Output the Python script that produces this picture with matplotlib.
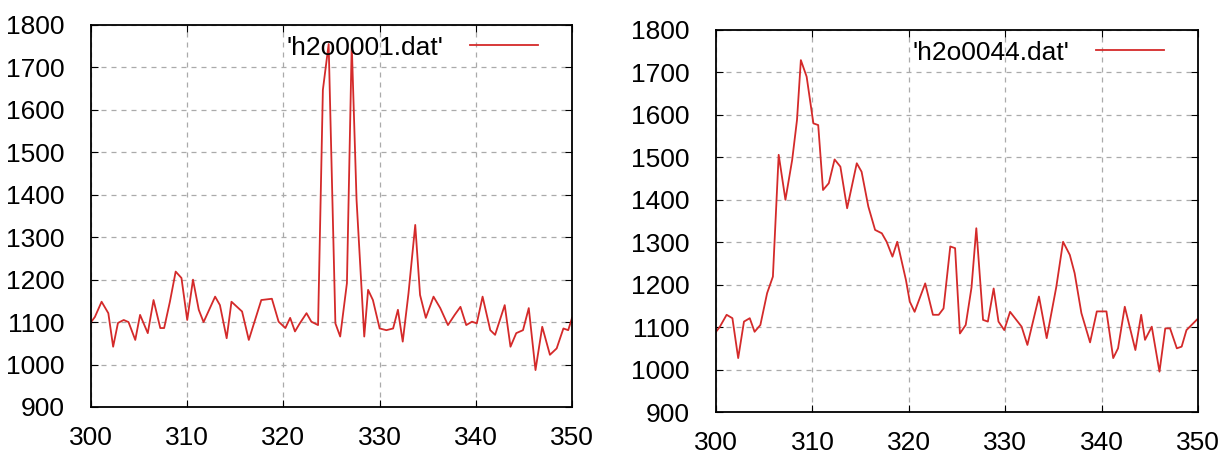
import matplotlib
matplotlib.use("Agg")
import matplotlib.pyplot as plt

plt.rcParams['font.family'] = ['Liberation Sans', 'DejaVu Sans']

# 'h2o0001.dat'
x1 = [300.0, 300.4, 301.1, 301.8, 302.3, 302.8, 303.4, 303.9, 304.6, 305.1,
      305.9, 306.5, 307.2, 307.6, 308.2, 308.8, 309.4, 310.0, 310.6, 311.2,
      311.7, 312.9, 313.4, 314.1, 314.6, 315.7, 316.4, 317.7, 318.8, 319.5,
      320.2, 320.7, 321.2, 321.7, 322.4, 322.9, 323.6, 324.1, 324.7, 325.4,
      325.9, 326.6, 327.1, 327.6, 328.4, 328.8, 329.3, 330.0, 330.7, 331.4,
      331.9, 332.4, 333.0, 333.7, 334.2, 334.8, 335.6, 336.3, 337.1, 337.8,
      338.4, 339.0, 339.6, 340.1, 340.7, 341.5, 342.0, 343.0, 343.6, 344.2,
      344.9, 345.5, 346.2, 346.9, 347.7, 348.4, 349.1, 349.6, 350.0]
y1 = [1100, 1112, 1148, 1121, 1042, 1098, 1105, 1100, 1058, 1117,
      1074, 1152, 1086, 1086, 1148, 1219, 1204, 1105, 1200, 1129,
      1100, 1160, 1140, 1062, 1148, 1125, 1058, 1152, 1155, 1101,
      1086, 1110, 1078, 1097, 1121, 1101, 1093, 1647, 1755, 1097,
      1066, 1192, 1755, 1388, 1066, 1176, 1152, 1085, 1081, 1085,
      1129, 1054, 1168, 1329, 1164, 1110, 1160, 1133, 1093, 1117,
      1136, 1093, 1101, 1097, 1160, 1081, 1070, 1140, 1042, 1074,
      1081, 1133, 987, 1089, 1023, 1038, 1085, 1081, 1110]

# 'h2o0044.dat'
x2 = [300.0, 300.4, 301.1, 301.7, 302.3, 302.9, 303.5, 304.0, 304.6, 305.3,
      305.9, 306.5, 307.2, 307.9, 308.4, 308.8, 309.4, 310.1, 310.6, 311.1,
      311.7, 312.3, 312.9, 313.6, 314.6, 315.1, 315.8, 316.5, 317.2, 317.7,
      318.3, 318.8, 319.7, 320.1, 320.6, 321.7, 322.5, 323.1, 323.6, 324.3,
      324.8, 325.3, 325.9, 326.5, 327.0, 327.7, 328.2, 328.8, 329.3, 329.9,
      330.5, 331.7, 332.3, 333.5, 334.3, 335.3, 336.0, 336.7, 337.2, 337.9,
      338.8, 339.5, 340.5, 341.2, 341.7, 342.4, 343.5, 344.1, 344.5, 345.2,
      346.0, 346.6, 347.1, 347.8, 348.3, 348.8, 349.9]
y2 = [1089, 1101, 1129, 1121, 1027, 1113, 1121, 1089, 1105, 1180,
      1219, 1506, 1400, 1494, 1588, 1729, 1690, 1580, 1576, 1423,
      1439, 1495, 1478, 1380, 1486, 1466, 1384, 1329, 1321, 1301,
      1266, 1301, 1211, 1160, 1136, 1203, 1129, 1129, 1144, 1290,
      1286, 1085, 1105, 1193, 1333, 1117, 1113, 1191, 1113, 1093,
      1136, 1101, 1058, 1172, 1074, 1195, 1301, 1270, 1227, 1133,
      1064, 1137, 1137, 1027, 1050, 1148, 1046, 1129, 1070, 1101,
      995, 1097, 1097, 1050, 1054, 1093, 1118]

names = ["'h2o0001.dat'", "'h2o0044.dat'"]
xticks = [300, 310, 320, 330, 340, 350]
yticks = [900, 1000, 1100, 1200, 1300, 1400, 1500, 1600, 1700, 1800]

fig = plt.figure(figsize=(12.2, 4.55), dpi=100)
ax1 = fig.add_axes([0.0746, 0.1055, 0.3943, 0.8396])
ax2 = fig.add_axes([0.5869, 0.0945, 0.3951, 0.8396])

for ax, x, y, name in [(ax1, x1, y1, names[0]), (ax2, x2, y2, names[1])]:
    ax.plot(x, y, color='#d42a2a', lw=1.3, label=name)
    ax.set_xlim(300, 350)
    ax.set_ylim(900, 1800)
    ax.set_xticks(xticks)
    ax.set_yticks(yticks)
    ax.grid(True, color='#aaaaaa', linestyle=(0, (4, 4)), lw=0.9)
    ax.tick_params(direction='in', length=5, top=True, right=True, labelsize=19)
    ax.tick_params(axis='x', pad=14)
    ax.tick_params(axis='y', pad=19)
    for s in ax.spines.values():
        s.set_linewidth(1.3)
    ax.legend(loc='upper right', bbox_to_anchor=(0.952, 1.0), frameon=False,
              fontsize=19, markerfirst=False, handlelength=2.6, handletextpad=1.0,
              borderpad=0.0, borderaxespad=0.4)

fig.savefig('out.png', dpi=100)
